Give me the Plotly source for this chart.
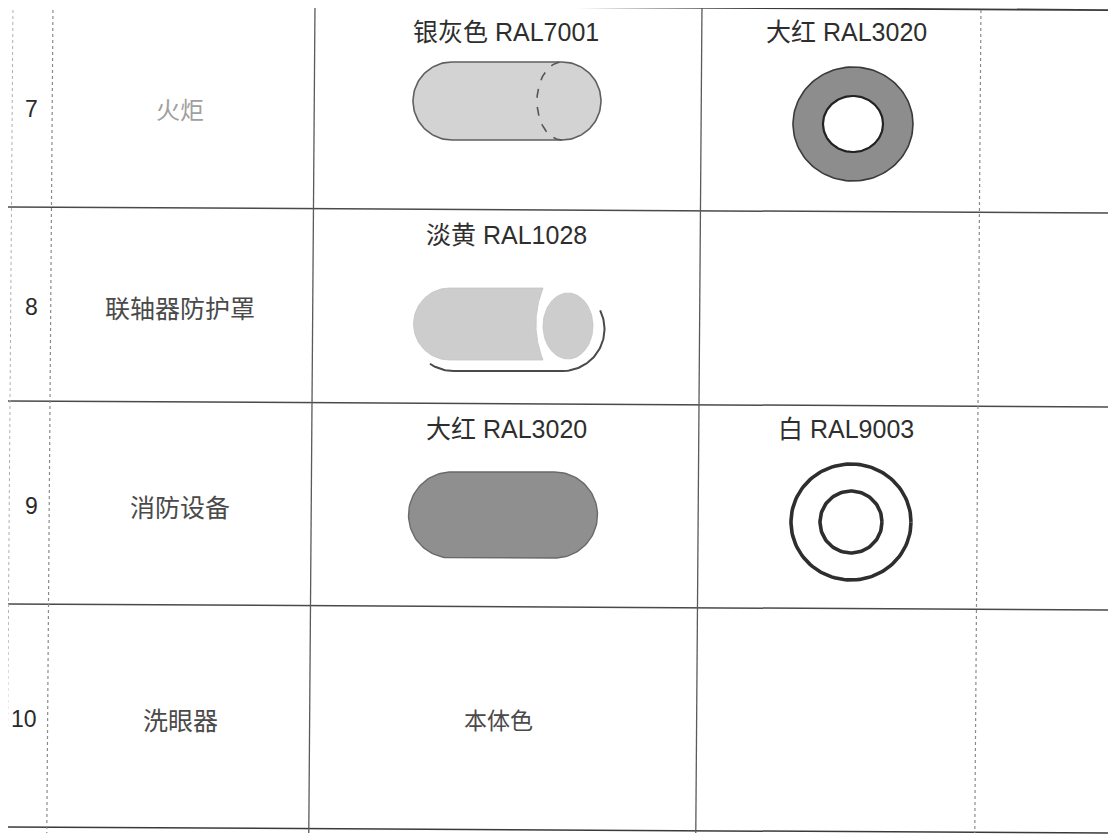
import numpy as np
import plotly.graph_objects as go

# ---- table content ----
row_ids = ["7", "8", "9", "10"]
item_names = ["火炬", "联轴器防护罩", "消防设备", "洗眼器"]
body_labels = ["银灰色 RAL7001", "淡黄 RAL1028", "大红 RAL3020", "本体色"]
end_labels = ["大红 RAL3020", "", "白 RAL9003", ""]
body_icons = ["capsule_end", "capsule_split", "capsule", "none"]
end_icons = ["ring", "none", "double_ring", "none"]
body_fills = ["#d3d3d3", "#cdcdcd", "#8f8f8f", None]
end_fills = ["#8d8d8d", None, "#ffffff", None]

# ---- layout geometry (page pixels) ----
W, H = 1116, 834
PAGE_MARGIN = 8      # default body margin of the html page
row_edges = [4, 207, 401, 604, 827]       # measured at left border
col_edges = [13, 53, 315, 702, 981]       # measured at top border
SLOPE_V = -0.0075   # x shift per px of y (scan skew)
SLOPE_H = 0.0055    # y shift per px of x

fig = go.Figure()
shapes = []

def hline(y0, color, width, dash="solid"):
    x0, x1 = 8, W
    shapes.append(dict(type="line", xref="x", yref="y",
                       x0=x0, x1=x1,
                       y0=y0 + SLOPE_H * (x0 - 13), y1=y0 + SLOPE_H * (x1 - 13),
                       line=dict(color=color, width=width, dash=dash)))

def vline(x0, color, width, dash="solid"):
    ya, yb = row_edges[0], row_edges[-1] + 6
    shapes.append(dict(type="line", xref="x", yref="y",
                       x0=x0 + SLOPE_V * (ya - 4), x1=x0 + SLOPE_V * (yb - 4),
                       y0=ya, y1=yb,
                       line=dict(color=color, width=width, dash=dash)))

for i, y in enumerate(row_edges):
    hline(y, "#3a3a3a" if i in (0, len(row_edges) - 1) else "#4a4a4a", 1.8 if i == 0 else 1.5)
vline(col_edges[0], "#b0b0b0", 1, "dot")
vline(col_edges[1], "#8a8a8a", 1.2, "dot")
vline(col_edges[2], "#5a5a5a", 1.3)
vline(col_edges[3], "#5a5a5a", 1.3)
vline(col_edges[4], "#8a8a8a", 1.2, "dot")


def stadium(cx, cy, w, h, n=60):
    r = h / 2.0
    xr, xl = cx + w / 2.0 - r, cx - w / 2.0 + r
    t1 = np.linspace(-np.pi / 2, np.pi / 2, n)
    t2 = np.linspace(np.pi / 2, 3 * np.pi / 2, n)
    xs = np.concatenate([xr + r * np.cos(t1), xl + r * np.cos(t2), [xr]])
    ys = np.concatenate([cy + r * np.sin(t1), cy + r * np.sin(t2), [cy - r]])
    return xs, ys


def ellipse(cx, cy, rx, ry, a0=0, a1=2 * np.pi, n=120):
    t = np.linspace(a0, a1, n)
    return cx + rx * np.cos(t), cy + ry * np.sin(t)


def add_poly(xs, ys, fill, line_color, line_width, dash="solid"):
    fig.add_trace(go.Scatter(x=xs, y=ys, mode="lines",
                             fill="toself" if fill else "none",
                             fillcolor=fill,
                             line=dict(color=line_color, width=line_width, dash=dash),
                             hoverinfo="skip", showlegend=False))


body_cx = [507, 508, 503]
body_cy = [101, 324, 515]
body_w = [188, 189, 189]
body_h = [78, 72, 86]
end_cx = [853, 0, 851]
end_cy = [124, 0, 522]

for i in range(len(row_ids)):
    kind = body_icons[i]
    if kind == "capsule_end":
        xs, ys = stadium(body_cx[i], body_cy[i], body_w[i], body_h[i])
        add_poly(xs, ys, body_fills[i], "#5f5f5f", 1.6)
        r = body_h[i] / 2
        ex = body_cx[i] + body_w[i] / 2 - r
        xs, ys = ellipse(ex, body_cy[i], 25, r, np.pi / 2, 3 * np.pi / 2)
        add_poly(xs, ys, None, "#555555", 1.6, "dash")
    elif kind == "capsule_split":
        cx, cy, w, h = body_cx[i], body_cy[i], body_w[i], body_h[i]
        r = h / 2
        xl = cx - w / 2 + r
        # left body: left half-round, flat top/bottom, concave right edge
        t = np.linspace(np.pi / 2, 3 * np.pi / 2, 60)   # bottom -> left -> top
        arc_x = xl + r * np.cos(t)
        arc_y = cy + r * np.sin(t)
        yy = np.linspace(cy - r, cy + r, 40)
        x_right = 543 - 7 * (1 - ((yy - cy) / r) ** 2)
        xs = np.concatenate([arc_x, x_right, [arc_x[0]]])
        ys = np.concatenate([arc_y, yy, [arc_y[0]]])
        add_poly(xs, ys, body_fills[i], "#c4c4c4", 0.8)
        # right end disc
        ex, ey = ellipse(568, cy + 2, 25, 33)
        add_poly(ex, ey, body_fills[i], "#c4c4c4", 0.8)
        # lower outline of the guard
        ox, oy = stadium(cx, cy + 5, w + 4, h + 12, n=80)
        rr = (h + 12) / 2
        mask = (oy > cy + 5 + rr - 8) | ((ox > cx + w / 2 - rr) & (oy > cy - 14))
        ox = np.where(mask, ox, np.nan)
        oy = np.where(mask, oy, np.nan)
        fig.add_trace(go.Scatter(x=ox, y=oy, mode="lines", connectgaps=False,
                                 line=dict(color="#4a4a4a", width=2),
                                 hoverinfo="skip", showlegend=False))
    elif kind == "capsule":
        xs, ys = stadium(body_cx[i], body_cy[i], body_w[i], body_h[i])
        add_poly(xs, ys, body_fills[i], "#6a6a6a", 1.4)

    ekind = end_icons[i]
    if ekind == "ring":
        xs, ys = ellipse(end_cx[i], end_cy[i], 60, 57)
        add_poly(xs, ys, end_fills[i], "#3a3a3a", 1.6)
        xs, ys = ellipse(end_cx[i], end_cy[i], 30, 28)
        add_poly(xs, ys, "#ffffff", "#222222", 2.2)
    elif ekind == "double_ring":
        xs, ys = ellipse(end_cx[i], end_cy[i], 60, 58)
        add_poly(xs, ys, None, "#2e2e2e", 3.6)
        xs, ys = ellipse(end_cx[i], end_cy[i], 31, 31)
        add_poly(xs, ys, None, "#2e2e2e", 3.6)

# ---- text ----
annotations = []
LAT = "Liberation Sans, Noto Sans CJK SC, sans-serif"
CJK = "Noto Sans CJK SC, sans-serif"
for i in range(len(row_ids)):
    top, bot = row_edges[i], row_edges[i + 1]
    mid = (top + bot) / 2 + 3
    annotations.append(dict(x=31 if len(row_ids[i]) == 1 else 24, y=mid, text=row_ids[i],
                            showarrow=False, xref="x", yref="y",
                            font=dict(family=LAT, size=23, color="#2a2a2a")))
    annotations.append(dict(x=180, y=mid, text=item_names[i], showarrow=False,
                            xref="x", yref="y",
                            font=dict(family=CJK, size=24 if i == 0 else 25,
                                      color="#a0a0a0" if i == 0 else "#4a4a4a")))
    if body_icons[i] == "none":
        annotations.append(dict(x=498, y=mid, text=body_labels[i], showarrow=False,
                                xref="x", yref="y",
                                font=dict(family=CJK, size=23, color="#4a4a4a")))
    else:
        annotations.append(dict(x=506, y=top + 28, text=body_labels[i], showarrow=False,
                                xref="x", yref="y",
                                font=dict(family=LAT, size=25, color="#2e2e2e")))
    if end_labels[i]:
        annotations.append(dict(x=846, y=top + 28, text=end_labels[i], showarrow=False,
                                xref="x", yref="y",
                                font=dict(family=LAT, size=25, color="#2e2e2e")))

# the page adds an 8px body margin; size and range compensate so page px == data px
fig.update_layout(
    width=W - PAGE_MARGIN, height=H - PAGE_MARGIN,
    margin=dict(l=0, r=0, t=0, b=0),
    paper_bgcolor="white", plot_bgcolor="white",
    xaxis=dict(range=[PAGE_MARGIN, W], visible=False, fixedrange=True),
    yaxis=dict(range=[H, PAGE_MARGIN], visible=False, fixedrange=True),
    shapes=shapes, annotations=annotations, showlegend=False,
)

fig.write_html("out.html", config={"displayModeBar": False})
